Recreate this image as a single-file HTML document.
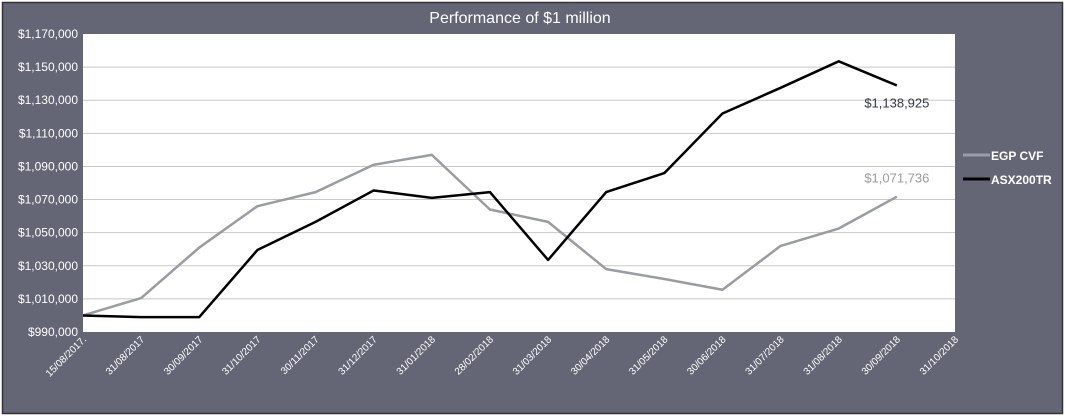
<!DOCTYPE html>
<html><head><meta charset="utf-8"><style>
html,body{margin:0;padding:0;background:#fff;}
svg{display:block;font-family:"Liberation Sans",sans-serif;}
</style></head><body>
<svg id="chart" width="1065" height="417">
<rect x="0" y="0" width="1065" height="417" fill="#fff"/>
<rect x="2.5" y="2.5" width="1060" height="411" fill="#646676" stroke="#333" stroke-width="1.5"/>
<text x="520" y="23" text-anchor="middle" fill="#fff" font-size="16">Performance of $1 million</text>
<rect x="83" y="34" width="872" height="298" fill="#fff"/>
<g id="grid"></g><g id="yt"></g><g id="xt"></g><g id="lines"></g>
<g>
<line x1="963" y1="155" x2="990" y2="155" stroke="#9a9ca3" stroke-width="3"/>
<text x="991" y="160" fill="#fff" font-size="12" font-weight="bold">EGP CVF</text>
<line x1="963" y1="179" x2="990" y2="179" stroke="#000" stroke-width="3"/>
<text x="991" y="184" fill="#fff" font-size="12" font-weight="bold">ASX200TR</text>
</g>
</svg>
<script>
const categories=["15/08/2017","31/08/2017","30/09/2017","31/10/2017","30/11/2017","31/12/2017","31/01/2018","28/02/2018","31/03/2018","30/04/2018","31/05/2018","30/06/2018","31/07/2018","31/08/2018","30/09/2018","31/10/2018"];
const egpValues=[1000000,1010500,1041000,1066000,1074500,1091000,1097000,1064000,1056500,1028000,1022000,1015500,1042000,1052500,1071736];
const asxValues=[1000000,999000,999000,1039500,1056500,1075500,1071000,1074500,1033500,1074500,1086000,1122000,1137500,1153500,1138925];
const yTicks=[990000,1010000,1030000,1050000,1070000,1090000,1110000,1130000,1150000,1170000];
const L=83,R=955,T=34,B=332,yMin=990000,yMax=1170000;
const NS="http://www.w3.org/2000/svg";
function x(i){return L+i*(R-L)/(categories.length-1);}
function y(v){return B-(v-yMin)/(yMax-yMin)*(B-T);}
function mk(t,a,p){const e=document.createElementNS(NS,t);for(const k in a)e.setAttribute(k,a[k]);p.appendChild(e);return e;}
const fmt=v=>"$"+v.toLocaleString("en-US");
const grid=document.getElementById("grid"),yt=document.getElementById("yt"),xt=document.getElementById("xt"),lines=document.getElementById("lines");
yTicks.forEach(v=>{
 if(v>yMin&&v<yMax){const g=mk("line",{x1:L,x2:R,y1:y(v),y2:y(v),stroke:"#c8c8c8","stroke-width":1},grid);
 
 }
 const t=mk("text",{x:78,y:y(v)+4,"text-anchor":"end",fill:"#fff","font-size":12},yt);t.textContent=fmt(v);
 
 
});
categories.forEach((c,i)=>{
 const t=mk("text",{x:x(i)+4,y:B+8,"text-anchor":"end",fill:"#fff","font-size":10,transform:`rotate(-45 ${x(i)+4} ${B+8})`},xt);
 t.textContent=c+(i===0?".":"");
 
 
});
function line(vals,color,name){
 const p=mk("polyline",{points:vals.map((v,i)=>x(i)+","+y(v)).join(" "),fill:"none",stroke:color,"stroke-width":2.5,"stroke-linejoin":"round"},lines);
 
 
}
line(egpValues,"#9a9ca3","egp-cvf-line");
line(asxValues,"#000","asx200tr-line");
const li=egpValues.length-1;
const l1=mk("text",{x:x(li),y:y(egpValues[li])-14,"text-anchor":"middle",fill:"#9a9ca3","font-size":13},lines);
l1.textContent=fmt(egpValues[li]);


const l2=mk("text",{x:x(li),y:y(asxValues[li])+22,"text-anchor":"middle",fill:"#333848","font-size":13},lines);
l2.textContent=fmt(asxValues[li]);


</script>
</body></html>
